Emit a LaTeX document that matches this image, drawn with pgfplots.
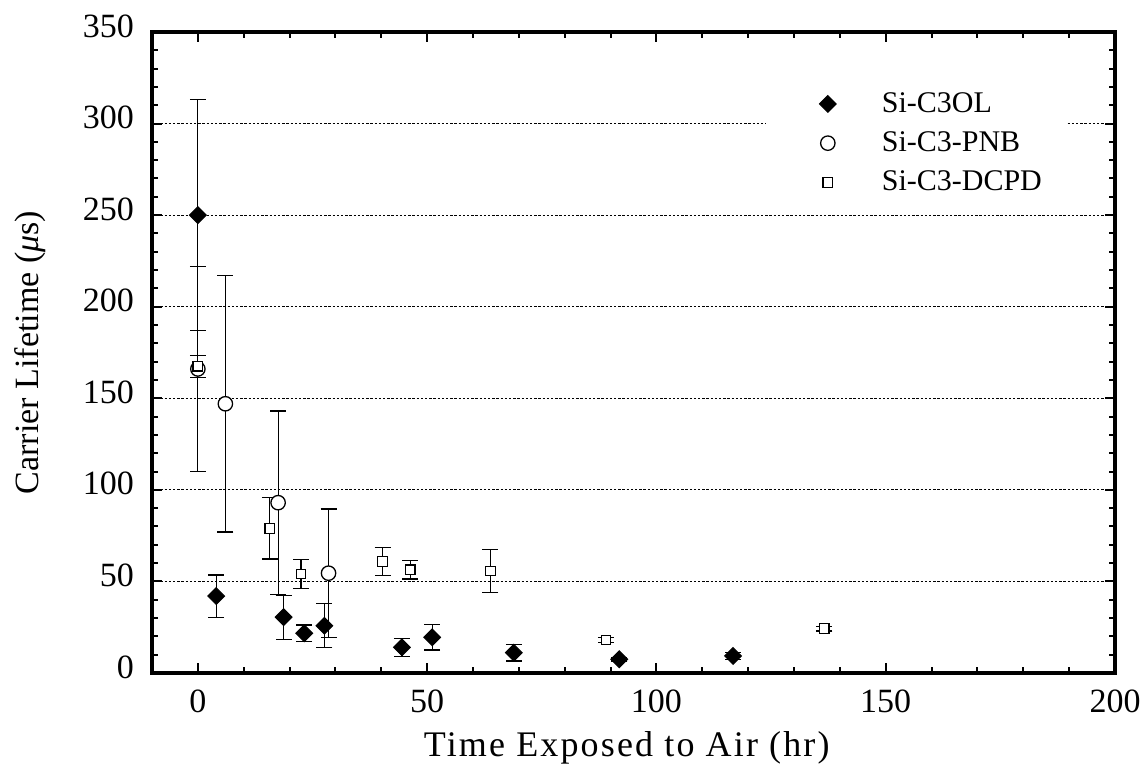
\documentclass[border=0pt]{standalone}
\usepackage{pgfplots}
\pgfplotsset{compat=1.18}
\usepackage{fontspec}
\setmainfont{Liberation Serif}
\usetikzlibrary{calc}

\begin{document}
\begin{tikzpicture}
\pgfplotsset{
  mylegimg/.style={legend image code/.code={\path[draw=none,fill=none] (0pt,0pt) (46pt,0pt);\draw[mark repeat=2,mark phase=2,##1] plot coordinates {(0pt,0pt)(21pt,0pt)(42pt,0pt)};}},
}
\begin{axis}[
  scale only axis, width=481.5pt, height=320.5pt,
  xmin=-10, xmax=200, ymin=0, ymax=350,
  xtick={0,50,100,150,200}, ytick={0,50,100,150,200,250,300,350},
  minor x tick num=4, minor y tick num=4,
  tick align=inside,
  xtick pos=both, ytick pos=both,
  major tick length=5.2pt, minor tick length=2.8pt,
  every tick/.style={black, line width=1pt},
  axis line style={line width=1.6pt},
  ymajorgrids,
  major grid style={dash pattern=on 1.2pt off 0.9pt, line width=0.6pt, black},
  /pgf/number format/assume math mode=true,
  tick label style={font=\fontsize{17}{20}\selectfont},
  xticklabel style={yshift=-5pt},
  yticklabel style={xshift=-5.5pt, yshift=3pt},
  xlabel={Time Exposed to Air (hr)},
  ylabel={Carrier Lifetime (\textit{μ}s)},
  xlabel style={font=\fontsize{18}{22}\selectfont\addfontfeature{LetterSpace=6},
    at={(axis description cs:0.493,-0.117)}, anchor=center},
  ylabel style={font=\fontsize{17}{20}\selectfont,
    at={(axis description cs:-0.1267,0.5)}, anchor=center},
  legend style={at={(axis description cs:0.637,0.925)}, anchor=north west,
    draw=none, fill=white, font=\fontsize{15}{18}\selectfont,
    row sep=4.2pt, inner xsep=10pt, inner ysep=4pt},
  legend cell align=left,
  error bars/error bar style={line width=0.6pt, black},
  error bars/error mark options={rotate=90, mark size=4pt, line width=0.6pt, black},
]
% Si-C3OL
\addplot+[black, only marks, mylegimg, mark=square*, mark size=2.95pt,
  mark options={rotate=45, fill=black, line width=0.5pt},
  error bars/.cd, y dir=both, y explicit]
coordinates {
 (0,250) +- (0,63)
 (4,42) +- (0,11.5)
 (18.7,30.5) +- (0,12)
 (23.2,21.7) +- (0,4.5)
 (27.6,25.8) +- (0,12)
 (44.5,14) +- (0,5)
 (51.1,19.5) +- (0,7)
 (68.9,11.1) +- (0,4.5)
 (91.9,7.5) +- (0,1)
 (116.7,9.3) +- (0,2)
};
\addlegendentry{Si-C3OL}
% Si-C3-PNB
\addplot+[black, only marks, mylegimg, mark=*, mark size=3.6pt,
  mark options={fill=white, line width=0.65pt},
  error bars/.cd, y dir=both, y explicit]
coordinates {
 (0,166) +- (0,56)
 (6,147) +- (0,70)
 (17.5,93) +- (0,50)
 (28.5,54.5) +- (0,35)
};
\addlegendentry{Si-C3-PNB}
% Si-C3-DCPD
\addplot+[black, only marks, mylegimg, mark=square*, mark size=2.4pt,
  mark options={fill=white, line width=0.6pt},
  error bars/.cd, y dir=both, y explicit]
coordinates {
 (0,167.5) +- (0,6)
 (15.7,79) +- (0,16.8)
 (22.5,54) +- (0,8)
 (40.3,60.8) +- (0,7.7)
 (46.3,56.3) +- (0,5)
 (63.8,55.7) +- (0,11.8)
 (89,18) +- (0,1.3)
 (136.6,24.2) +- (0,1.3)
};
\addlegendentry{Si-C3-DCPD}
\end{axis}
\pgfresetboundingbox
\path ($(current axis.south west)+(-76pt,-50pt)$) rectangle ($(current axis.north east)+(14.5pt,16pt)$);
\end{tikzpicture}
\end{document}
